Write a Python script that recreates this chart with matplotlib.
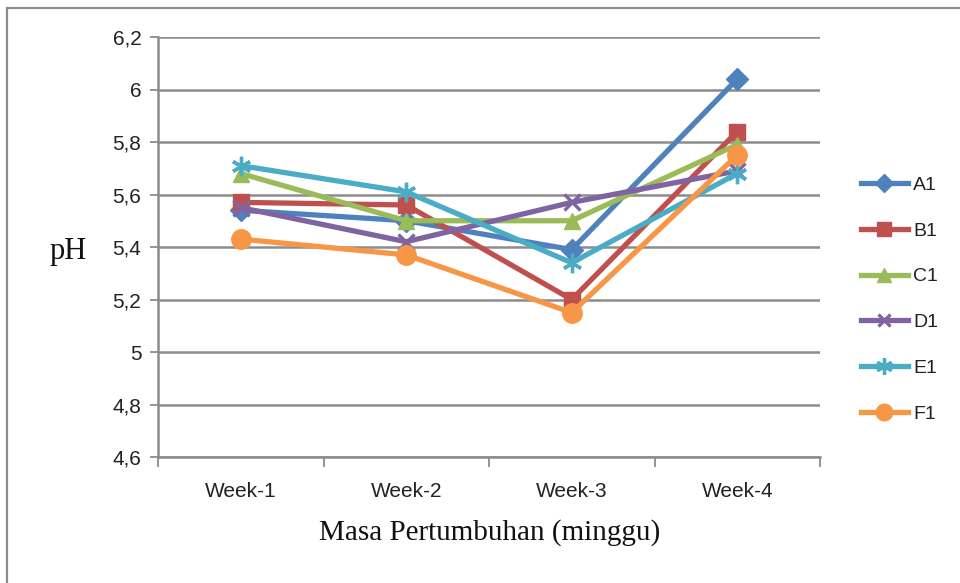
import matplotlib
matplotlib.use("Agg")
import matplotlib.pyplot as plt
from matplotlib.patches import Rectangle
from matplotlib.ticker import FixedLocator, NullFormatter

weeks = ["Week-1", "Week-2", "Week-3", "Week-4"]
A1 = [5.54, 5.50, 5.39, 6.04]
B1 = [5.57, 5.56, 5.20, 5.84]
C1 = [5.68, 5.50, 5.50, 5.79]
D1 = [5.55, 5.42, 5.57, 5.69]
E1 = [5.71, 5.61, 5.34, 5.68]
F1 = [5.43, 5.37, 5.15, 5.75]
y_ticks = [4.6, 4.8, 5.0, 5.2, 5.4, 5.6, 5.8, 6.0, 6.2]
y_labels = ["4,6", "4,8", "5", "5,2", "5,4", "5,6", "5,8", "6", "6,2"]

series = [
    ("A1", A1, "#4F81BD", "D", 11),
    ("B1", B1, "#C0504D", "s", 12),
    ("C1", C1, "#9BBB59", "^", 12),
    ("D1", D1, "#8064A2", "x", 11),
    ("E1", E1, "#4BACC6", (6, 2, 0), 14),
    ("F1", F1, "#F79646", "o", 14),
]

tick_font = ["Liberation Sans Narrow", "Liberation Sans", "DejaVu Sans"]
serif_font = ["Liberation Serif", "DejaVu Serif"]

fig = plt.figure(figsize=(9.6, 5.83), dpi=100)
fig.patch.set_facecolor("white")

# outer chart frame
fig.patches.append(Rectangle((7 / 960, -0.1), 1.2, 1 - 8 / 583 + 0.1,
                             transform=fig.transFigure, fill=False,
                             edgecolor="#8c8c8c", linewidth=1.6))

ax = fig.add_axes([158 / 960, 1 - 457 / 583, 662 / 960, 420 / 583])
x = list(range(1, len(weeks) + 1))

for name, vals, color, marker, ms in series:
    mew = 2.4 if marker in ("x", (6, 2, 0)) else 1.0
    ax.plot(x, vals, color=color, linewidth=3.8, marker=marker,
            markersize=ms, markeredgewidth=mew, markeredgecolor=color,
            markerfacecolor=color, label=name, zorder=3)

ax.set_xlim(0.5, len(weeks) + 0.5)
ax.set_ylim(4.6, 6.2)
ax.set_yticks(y_ticks)
ax.set_yticklabels(y_labels, fontfamily=tick_font, fontsize=15, color="#222222")
ax.yaxis.grid(True, color="#8c8c8c", linewidth=1.8, zorder=0)

ax.xaxis.set_major_locator(FixedLocator([i + 0.5 for i in range(len(weeks) + 1)]))
ax.xaxis.set_major_formatter(NullFormatter())
ax.xaxis.set_minor_locator(FixedLocator(x))
ax.set_xticklabels(weeks, minor=True, fontfamily=tick_font, fontsize=15,
                   color="#222222")
ax.tick_params(axis="x", which="major", length=7, width=1.3, color="#8c8c8c",
               direction="out")
ax.tick_params(axis="x", which="minor", length=0, pad=18)
ax.tick_params(axis="y", length=6, width=1.3, color="#8c8c8c", pad=6)

for side in ("top", "right"):
    ax.spines[side].set_visible(False)
for side in ("left", "bottom"):
    ax.spines[side].set_color("#8c8c8c")
    ax.spines[side].set_linewidth(1.8)

fig.text(68 / 960, 1 - 252 / 583, "pH", fontfamily=serif_font, fontsize=22,
         ha="center", va="center", color="#111111")
fig.text(490 / 960, 1 - 533 / 583, "Masa Pertumbuhan (minggu)",
         fontfamily=serif_font, fontsize=21, ha="center", va="center",
         color="#111111")

leg = ax.legend(loc="upper left", bbox_to_anchor=(1.05, 0.687), frameon=False,
                prop={"family": tick_font, "size": 14}, handlelength=2.4,
                labelspacing=1.45, handletextpad=0.3, borderaxespad=0,
                markerscale=0.85)
for t in leg.get_texts():
    t.set_color("#222222")

fig.savefig("out.png", dpi=100, facecolor="white")
